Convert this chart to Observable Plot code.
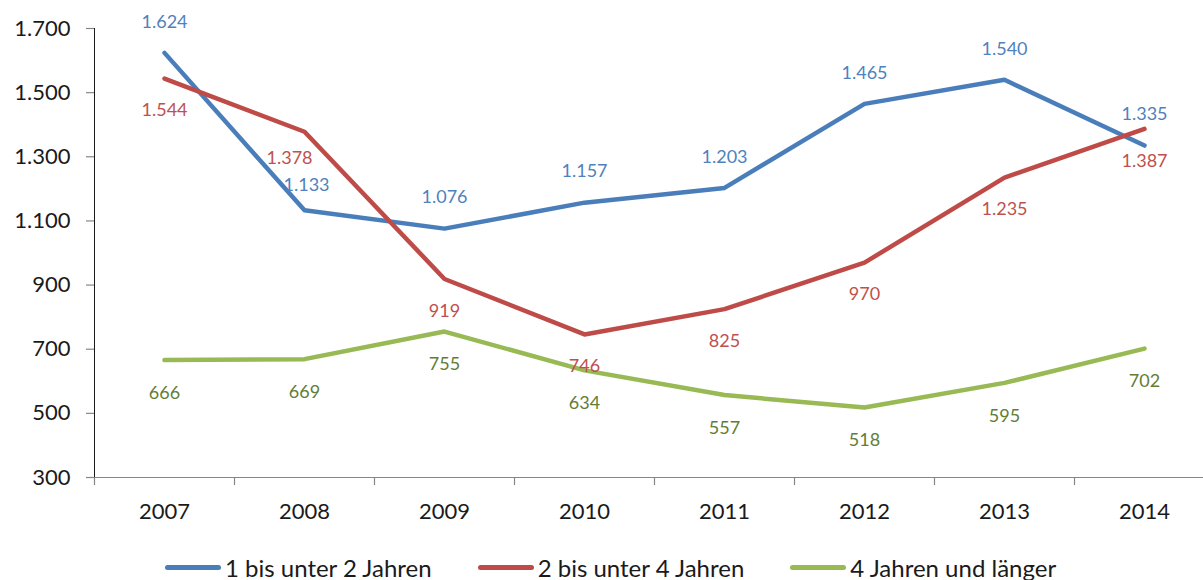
<!DOCTYPE html>
<html>
<head>
<meta charset="utf-8">
<script src="https://cdn.jsdelivr.net/npm/d3@7"></script>
<script src="https://cdn.jsdelivr.net/npm/@observablehq/plot@0.6"></script>
<style>
  html, body { margin: 0; padding: 0; background: #fff; }
  body { width: 1203px; height: 580px; overflow: hidden; font-family: Lato, "Open Sans", sans-serif; }
  #legend { display: flex; align-items: center; height: 34px; padding-left: 165px; font-size: 24px; color: #1a1a1a; }
  .item { display: flex; align-items: center; margin-right: 46px; }
  .sw { width: 56px; height: 5px; border-radius: 3px; margin-right: 4px; }
  #chart svg [aria-label^="x-axis"] text, #chart svg [aria-label^="y-axis"] text { font-size: 22px; fill: #1a1a1a; }
  #chart svg [aria-label^="x-axis"] line, #chart svg [aria-label^="y-axis"] line,
  #chart svg [aria-label^="x-axis"] path, #chart svg [aria-label^="y-axis"] path { stroke: #868686; stroke-width: 1.2; }
</style>
</head>
<body>
<div id="chart"></div>
<div id="legend"></div>
<script>
const years = ["2007", "2008", "2009", "2010", "2011", "2012", "2013", "2014"];
const seriesNames = ["1 bis unter 2 Jahren", "2 bis unter 4 Jahren", "4 Jahren und länger"];
const series1 = [1624, 1133, 1076, 1157, 1203, 1465, 1540, 1335];
const series2 = [1544, 1378, 919, 746, 825, 970, 1235, 1387];
const series3 = [666, 669, 755, 634, 557, 518, 595, 702];
const yTicks = [300, 500, 700, 900, 1100, 1300, 1500, 1700];

const lineColors = ["#4a7ebb", "#be4b48", "#98b954"];
const labelColors = ["#4f81bd", "#c0504d", "#637d34"];

const de = d3.formatLocale({decimal: ",", thousands: ".", grouping: [3], currency: ["", " €"]});
const fmt = de.format(",");

const allSeries = [series1, series2, series3];
const rows = allSeries.flatMap((s, k) => years.map((yr, i) => ({year: yr, value: s[i], series: seriesNames[k]})));
const bySeries = k => rows.filter(d => d.series === seriesNames[k]);

const labelMarks = (k, dy, special) => {
  const data = bySeries(k);
  const normal = data.filter(d => d.year !== "2008");
  const sp = data.filter(d => d.year === "2008");
  return [
    Plot.text(normal, {x: "year", y: "value", text: d => fmt(d.value), dy, fill: labelColors[k], fontSize: 18}),
    Plot.text(sp, {x: "year", y: "value", text: d => fmt(d.value), dy: special.dy, dx: special.dx, fill: labelColors[k], fontSize: 18})
  ];
};

const chart = Plot.plot({
  width: 1203,
  height: 550,
  marginLeft: 94,
  marginRight: 0,
  marginTop: 28,
  marginBottom: 73,
  style: {fontFamily: "Lato, 'Open Sans', sans-serif", fontSize: "22px", background: "#fff", color: "#1a1a1a"},
  x: {type: "point", domain: years, range: [94, 1214], padding: 0.5, tickSize: 0, tickPadding: 26, label: null},
  y: {domain: [300, 1700], ticks: yTicks, tickSize: 8, tickPadding: 16, tickFormat: fmt, label: null, line: true},
  marks: [
    Plot.ruleY([300], {stroke: "#868686", strokeWidth: 1.2}),
    Plot.ruleX(years, {x: d => d, y1: 300, y2: 300, insetBottom: -8, dx: -70, stroke: "#868686", strokeWidth: 1.2}),
    ...[0, 1, 2].map(k => Plot.line(bySeries(k), {x: "year", y: "value", stroke: lineColors[k], strokeWidth: 4.5, strokeLinejoin: "round"})),
    ...labelMarks(0, -31, {dy: -25, dx: 2}),
    ...labelMarks(1, 32, {dy: 26, dx: -15}),
    ...labelMarks(2, 33, {dy: 33, dx: 0})
  ]
});
document.getElementById("chart").append(chart);

const legend = document.getElementById("legend");
seriesNames.forEach((name, k) => {
  const item = document.createElement("div");
  item.className = "item";
  const sw = document.createElement("div");
  sw.className = "sw";
  sw.style.background = lineColors[k];
  const t = document.createElement("span");
  t.textContent = name;
  item.append(sw, t);
  legend.append(item);
});
</script>
</body>
</html>
